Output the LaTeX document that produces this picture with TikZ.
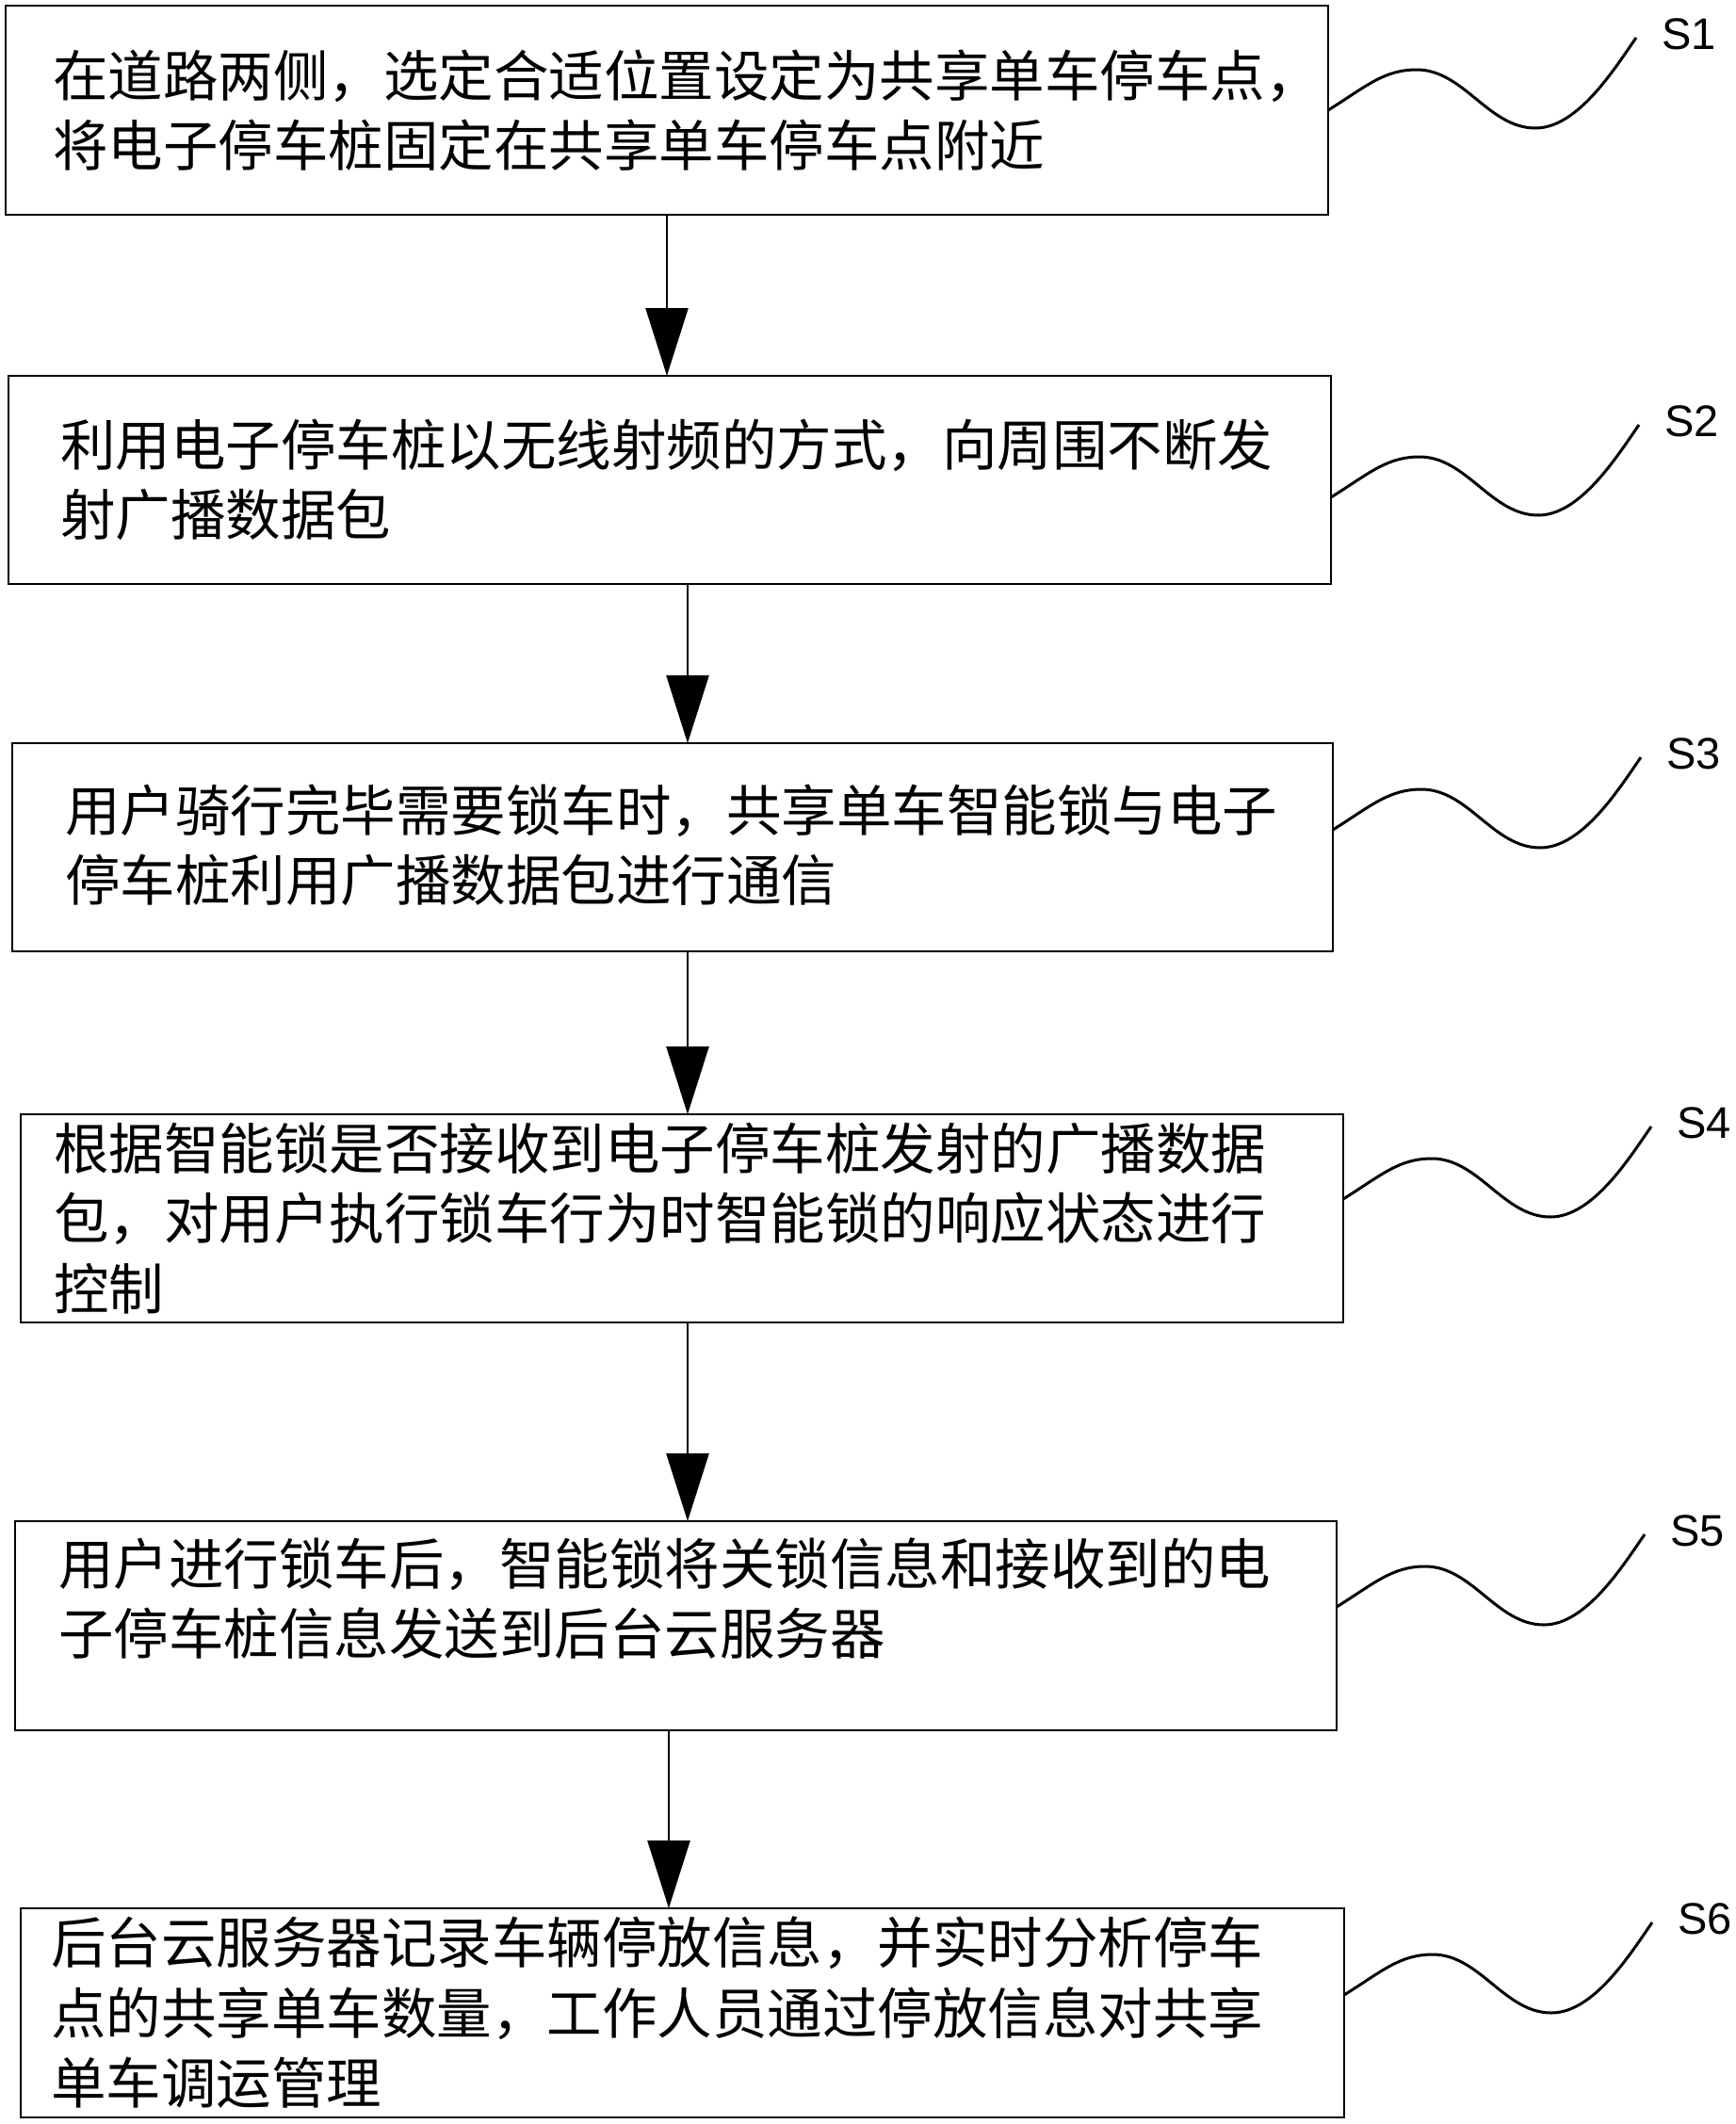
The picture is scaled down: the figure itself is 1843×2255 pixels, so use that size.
\documentclass[tikz,border=0pt]{standalone}
\usepackage{fontspec}
\newfontfamily\cjk{Noto Sans CJK SC}
\newfontfamily\lab{Liberation Sans}
\usetikzlibrary{arrows.meta}
\tikzset{
  stepbox/.style={draw=black, line width=2.6pt, inner sep=0pt, outer sep=0pt, rectangle},
  txt/.style={font=\cjk\fontsize{58.5pt}{74.5pt}\selectfont, align=left, inner sep=0pt, anchor=west},
  flow/.style={line width=2.6pt, -{Triangle[length=72pt,width=45pt]}},
  wavy/.style={line width=3pt},
  slabel/.style={font=\lab\fontsize{47pt}{47pt}\selectfont, inner sep=0pt, anchor=west}
}
\newcommand\stepwave[4]{%
  \begin{scope}[shift={([yshift=#2]#1.east)}]
    \draw[wavy] ([yshift=#2]#1.east) .. controls (40,-25) and (59,-43) .. (94,-43)
      .. controls (144,-43) and (170,19) .. (220,19)
      .. controls (265,19) and (304,-44) .. (327,-77) coordinate (e#4);
    \node[slabel] (l#4) at (354,-81) {#3};
  \end{scope}}
\begin{document}
\begin{tikzpicture}[x=1pt,y=-1pt]
\useasboundingbox[fill=white] (0,0) rectangle (1843,2255);

\node[stepbox, minimum width=1404pt, minimum height=222pt] (b1) at (708,117) {};
\node[stepbox, minimum width=1404pt, minimum height=221pt] (b2) at (711,509.5) {};
\node[stepbox, minimum width=1402pt, minimum height=221pt] (b3) at (714,899.5) {};
\node[stepbox, minimum width=1404pt, minimum height=221pt] (b4) at (724,1293.5) {};
\node[stepbox, minimum width=1403pt, minimum height=222pt] (b5) at (717.5,1726) {};
\node[stepbox, minimum width=1405pt, minimum height=222pt] (b6) at (724.5,2137) {};

\node[txt] (t1) at ([xshift=50pt]b1.west) {在道路两侧，选定合适位置设定为共享单车停车点，\\将电子停车桩固定在共享单车停车点附近};
\node[txt] (t2) at ([xshift=55pt]b2.west) {利用电子停车桩以无线射频的方式，向周围不断发\\射广播数据包};
\node[txt] (t3) at ([xshift=56pt,yshift=2pt]b3.west) {用户骑行完毕需要锁车时，共享单车智能锁与电子\\停车桩利用广播数据包进行通信};
\node[txt] (t4) at ([xshift=35pt]b4.west) {根据智能锁是否接收到电子停车桩发射的广播数据\\包，对用户执行锁车行为时智能锁的响应状态进行\\控制};
\node[txt] (t5) at ([xshift=46pt,yshift=29pt]b5.west) {用户进行锁车后，智能锁将关锁信息和接收到的电\\子停车桩信息发送到后台云服务器};
\node[txt] (t6) at ([xshift=32pt]b6.west) {后台云服务器记录车辆停放信息，并实时分析停车\\点的共享单车数量，工作人员通过停放信息对共享\\单车调运管理};

\coordinate (ax1) at (708,0);
\coordinate (ax2) at (730,0);
\coordinate (ax5) at (710,0);
\draw[flow] (b1.south -| ax1) -- (b2.north -| ax1);
\draw[flow] (b2.south -| ax2) -- (b3.north -| ax2);
\draw[flow] (b3.south -| ax2) -- (b4.north -| ax2);
\draw[flow] (b4.south -| ax2) -- (b5.north -| ax2);
\draw[flow] (b5.south -| ax5) -- (b6.north -| ax5);

\stepwave{b1}{0pt}{S1}{1}
\stepwave{b2}{-18.5pt}{S2}{2}
\stepwave{b3}{18.5pt}{S3}{3}
\stepwave{b4}{20.5pt}{S4}{4}
\stepwave{b5}{20pt}{S5}{5}
\stepwave{b6}{19pt}{S6}{6}
\end{tikzpicture}
\end{document}
